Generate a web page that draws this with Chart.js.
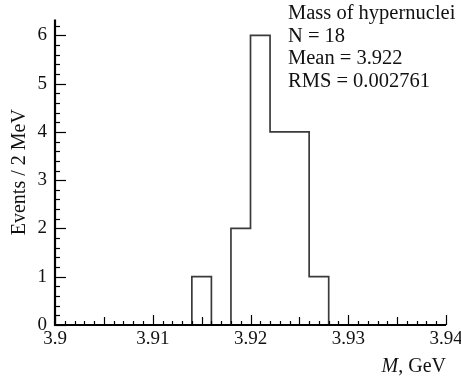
<!DOCTYPE html>
<html>
<head>
<meta charset="utf-8">
<script src="https://cdn.jsdelivr.net/npm/chart.js@4/dist/chart.umd.min.js"></script>
<style>
  html, body { margin: 0; padding: 0; background: #fff; }
  #wrap { position: relative; width: 461px; height: 379px; }
</style>
</head>
<body>
<div id="wrap"><canvas id="hist"></canvas></div>
<script>
// Histogram data: 2 MeV bins from 3.900 to 3.940 GeV
const binEdges = [3.900, 3.902, 3.904, 3.906, 3.908, 3.910, 3.912, 3.914, 3.916, 3.918, 3.920,
                  3.922, 3.924, 3.926, 3.928, 3.930, 3.932, 3.934, 3.936, 3.938, 3.940];
const binCounts = [0, 0, 0, 0, 0, 0, 0, 1, 0, 2, 6, 4, 4, 1, 0, 0, 0, 0, 0, 0];

// Axis ticks
const xTickValues = [3.90, 3.91, 3.92, 3.93, 3.94];
const xTickLabels = ['3.9', '3.91', '3.92', '3.93', '3.94'];
const yTickValues = [0, 1, 2, 3, 4, 5, 6];
const yTickLabels = ['0', '1', '2', '3', '4', '5', '6'];

// Stats box
const statsLines = ['Mass of hypernuclei', 'N = 18', 'Mean = 3.922', 'RMS = 0.002761'];

const FONT = "'Liberation Serif', 'DejaVu Serif', serif";

// outline points for a stepped line: segment starting at edge i holds bin i
const outline = binEdges.map((edge, i) => ({
  x: edge,
  y: i < binCounts.length ? binCounts[i] : binCounts[binCounts.length - 1]
}));

// Draws ROOT-style axes: inward ticks, titles and the stats text
const rootFrame = {
  id: 'rootFrame',
  afterDatasetsDraw(chart) {
    const ctx = chart.ctx;
    const area = chart.chartArea;
    const xs = chart.scales.x;
    const ys = chart.scales.y;

    ctx.save();
    ctx.strokeStyle = '#000';

    // x ticks (every 1 MeV, longer every 5 MeV)
    ctx.lineWidth = 1.2;
    for (let k = 0; k <= 40; k++) {
      const v = 3.9 + k * 0.001;
      const px = Math.round(xs.getPixelForValue(v)) + 0.5;
      const len = (k % 10 === 0) ? 10 : (k % 5 === 0 ? 8 : 4);
      ctx.beginPath();
      ctx.moveTo(px, area.bottom);
      ctx.lineTo(px, area.bottom - len);
      ctx.stroke();
    }

    // y ticks (every 0.2, longer every 1)
    for (let k = 0; k <= 31; k++) {
      const v = k * 0.2;
      if (v > ys.max) break;
      const py = Math.round(ys.getPixelForValue(v)) + 0.5;
      const len = (k % 5 === 0) ? 11 : 5;
      ctx.beginPath();
      ctx.moveTo(area.left, py);
      ctx.lineTo(area.left + len, py);
      ctx.stroke();
    }

    // axis lines
    ctx.lineWidth = 2.2;
    ctx.beginPath();
    ctx.moveTo(area.left, area.top);
    ctx.lineTo(area.left, area.bottom);
    ctx.lineTo(area.right, area.bottom);
    ctx.stroke();

    // x title "M, GeV" with italic M, right aligned
    ctx.fillStyle = '#111';
    ctx.textBaseline = 'alphabetic';
    ctx.font = "20px " + FONT;
    const rest = ', GeV';
    const restW = ctx.measureText(rest).width;
    ctx.textAlign = 'right';
    ctx.fillText(rest, area.right, 372);
    ctx.font = "italic 20px " + FONT;
    ctx.fillText('M', area.right - restW, 372);

    // y title
    ctx.font = "20px " + FONT;
    ctx.translate(25, (area.top + area.bottom) / 2);
    ctx.rotate(-Math.PI / 2);
    ctx.textAlign = 'center';
    ctx.fillText('Events / 2 MeV', 0, 0);
    ctx.setTransform(1, 0, 0, 1, 0, 0);

    // stats text
    ctx.textAlign = 'left';
    ctx.font = "20.5px " + FONT;
    statsLines.forEach((line, i) => {
      ctx.fillText(line, 288, 19 + i * 22.6);
    });
    ctx.restore();
  }
};

new Chart(document.getElementById('hist'), {
  type: 'line',
  data: {
    datasets: [{
      data: outline,
      stepped: 'before',
      borderColor: '#3a3a3a',
      borderWidth: 1.7,
      pointRadius: 0,
      fill: false
    }]
  },
  options: {
    responsive: true,
    maintainAspectRatio: false,
    animation: false,
    events: [],
    layout: { padding: { top: 3, right: 15, left: 0, bottom: 0 } },
    plugins: { legend: { display: false }, tooltip: { enabled: false } },
    scales: {
      x: {
        type: 'linear',
        min: 3.9,
        max: 3.94,
        afterBuildTicks: scale => { scale.ticks = xTickValues.map(v => ({ value: v })); },
        afterFit: scale => { scale.height = 54; scale.paddingLeft = 0; scale.paddingRight = 0; },
        grid: { display: false, drawTicks: false },
        border: { display: false },
        ticks: {
          autoSkip: false,
          maxRotation: 0,
          padding: 3,
          color: '#111',
          font: { family: FONT, size: 19 },
          callback: (v, i) => xTickLabels[i]
        }
      },
      y: {
        min: 0,
        max: 6.33,
        afterBuildTicks: scale => { scale.ticks = yTickValues.map(v => ({ value: v })); },
        afterFit: scale => { scale.width = 55; },
        grid: { display: false, drawTicks: false },
        border: { display: false },
        ticks: {
          autoSkip: false,
          padding: 8,
          color: '#111',
          font: { family: FONT, size: 19 },
          callback: (v, i) => yTickLabels[i]
        }
      }
    }
  },
  plugins: [rootFrame]
});
</script>
</body>
</html>
